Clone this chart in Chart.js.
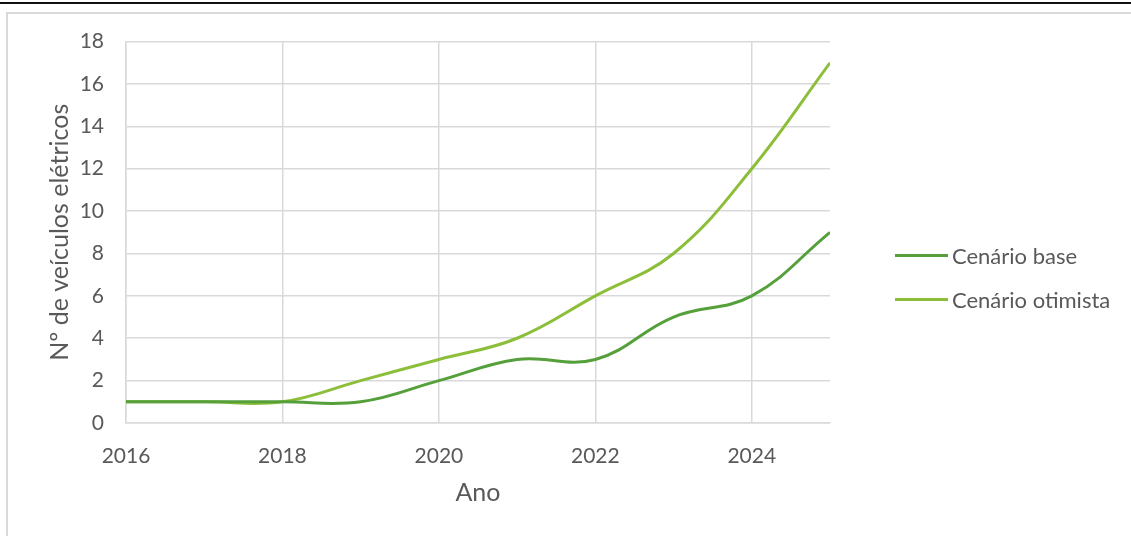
<!DOCTYPE html>
<html lang="pt">
<head>
<meta charset="utf-8">
<script src="https://cdn.jsdelivr.net/npm/chart.js@4"></script>
<style>
  body { margin: 0; background: #fff; width: 1131px; height: 536px; overflow: hidden; position: relative; font-family: Lato, 'Open Sans', sans-serif; }
  .topline { position: absolute; left: 0; top: 2px; width: 1131px; height: 2px; background: #111; }
  .frame { position: absolute; left: 6px; top: 12px; width: 1140px; height: 540px; border: 2px solid #d9d9d9; box-sizing: border-box; }
  .wrap { position: absolute; left: 8px; top: 7px; width: 1123px; height: 529px; }
  .legend { position: absolute; left: 895px; top: 240px; color: #595959; font-size: 22px; }
  .legend .item { display: flex; align-items: center; height: 30px; margin-bottom: 14px; }
  .legend .swatch { width: 53px; height: 3px; margin-right: 4px; }
</style>
</head>
<body>
<div class="topline"></div>
<div class="frame"></div>
<div class="wrap"><canvas id="chart"></canvas></div>
<div class="legend" id="legend"></div>
<script>
// ── dados ───────────────────────────────
const anos         = [2016, 2017, 2018, 2019, 2020, 2021, 2022, 2023, 2024, 2025];
const cenarioBase  = [1, 1, 1, 1, 2, 3, 3, 5, 6, 9];
const cenarioOtim  = [1, 1, 1, 2, 3, 4, 6, 8, 12, 17];
const nomesSeries  = ['Cenário base', 'Cenário otimista'];
const coresSeries  = ['#55a03b', '#8dbe3a'];

const FONT = 'Lato, "Open Sans", sans-serif';
const GREY = '#595959';

const series = [cenarioBase, cenarioOtim];

new Chart(document.getElementById('chart'), {
  type: 'line',
  data: {
    datasets: series.map((vals, i) => ({
      label: nomesSeries[i],
      data: anos.map((a, j) => ({ x: a, y: vals[j] })),
      borderColor: coresSeries[i],
      backgroundColor: coresSeries[i],
      borderWidth: 3,
      pointRadius: 0,
      tension: 0.4,
      fill: false
    }))
  },
  options: {
    responsive: true,
    maintainAspectRatio: false,
    animation: false,
    layout: { padding: { left: 0, top: 16, right: 301, bottom: 0 } },
    plugins: { legend: { display: false }, tooltip: { enabled: false } },
    scales: {
      x: {
        type: 'linear',
        min: 2016,
        max: 2025,
        ticks: {
          stepSize: 2,
          includeBounds: false,
          padding: 21,
          color: GREY,
          font: { family: FONT, size: 21 },
          callback: v => String(v)
        },
        grid: { color: '#d9d9d9', lineWidth: 1.5, drawTicks: false },
        border: { color: '#d9d9d9', width: 1.5 },
        title: { display: true, text: 'Ano', color: GREY, font: { family: FONT, size: 25 }, padding: { top: 0, bottom: 28 } },
        afterFit: s => { s.height = 113; }
      },
      y: {
        min: 0,
        max: 18,
        ticks: {
          stepSize: 2,
          padding: 22,
          color: GREY,
          font: { family: FONT, size: 21 }
        },
        grid: { color: '#d9d9d9', lineWidth: 1.5, drawTicks: false },
        border: { color: '#d9d9d9', width: 1.5 },
        title: { display: true, text: 'Nº de veículos elétricos', color: GREY, font: { family: FONT, size: 25 }, padding: { top: 37, bottom: 0 } },
        afterFit: s => { s.width = 118; }
      }
    }
  }
});

// legenda
document.getElementById('legend').innerHTML = nomesSeries.map((n, i) =>
  `<div class="item"><span class="swatch" style="background:${coresSeries[i]}"></span>${n}</div>`
).join('');
</script>
</body>
</html>
